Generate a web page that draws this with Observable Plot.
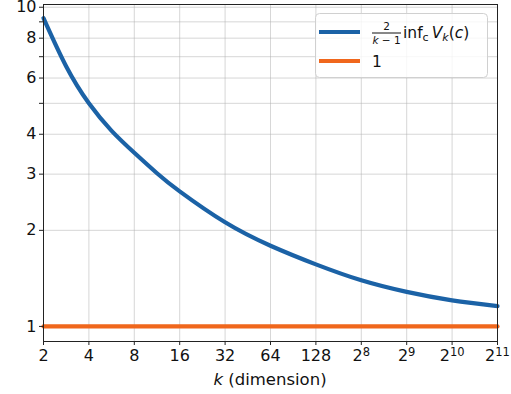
<!DOCTYPE html>
<html>
<head>
<meta charset="utf-8">
<script src="https://cdn.jsdelivr.net/npm/d3@7"></script>
<script src="https://cdn.jsdelivr.net/npm/@observablehq/plot@0.6"></script>
<style>
  html, body { margin: 0; padding: 0; background: #fff; }
  #wrap { position: relative; width: 511px; height: 394px; }
  svg { overflow: visible; }
</style>
</head>
<body>
<div id="wrap"></div>
<script>
// Data
const kValues = [2, 2.83, 4, 5.66, 8, 11.31, 16, 32, 64, 128, 256, 512, 1024, 2048];
const boundValues = [9.24, 6.52, 5.0, 4.1, 3.5, 3.02, 2.65, 2.12, 1.79, 1.565, 1.395, 1.283, 1.207, 1.158];
const refK = [2, 2048];
const refValues = [1, 1];
const xTickValues = [2, 4, 8, 16, 32, 64, 128, 256, 512, 1024, 2048];
const xTickBase = ["2", "4", "8", "16", "32", "64", "128", "2", "2", "2", "2"];
const xTickExp = ["", "", "", "", "", "", "", "8", "9", "10", "11"];
const yTickValues = [1, 2, 3, 4, 5, 6, 7, 8, 9, 10];
const yTickLabels = ["1", "2", "3", "4", "", "6", "", "8", "", "10"];
const seriesColors = ["#1b62a6", "#f0671c"];
const legendLabels = ["2/(k−1) inf_c V_k(c)", "1"];

const boundData = kValues.map((k, i) => ({k, v: boundValues[i]}));
const refData = refK.map((k, i) => ({k, v: refValues[i]}));

const FONT = "DejaVu Sans, sans-serif";
const plot = Plot.plot({
  width: 511,
  height: 394,
  marginLeft: 43,
  marginRight: 14,
  marginTop: 4,
  marginBottom: 53,
  style: {fontFamily: FONT, fontSize: "16px", color: "#111", background: "#fff"},
  x: {type: "log", base: 2, domain: [2, 2048]},
  y: {type: "log", domain: [0.897, 10.2]},
  marks: [
    Plot.gridX(xTickValues, {stroke: "#b0b0b0", strokeOpacity: 0.5, strokeWidth: 1}),
    Plot.gridY(yTickValues, {stroke: "#b0b0b0", strokeOpacity: 0.5, strokeWidth: 1}),
    Plot.line(boundData, {x: "k", y: "v", stroke: seriesColors[0], strokeWidth: 4.2, curve: "natural"}),
    Plot.line(refData, {x: "k", y: "v", stroke: seriesColors[1], strokeWidth: 4.2}),
    Plot.frame({stroke: "#222", strokeWidth: 1}),
    Plot.axisX({ticks: xTickValues, tickFormat: (d) => xTickBase[xTickValues.indexOf(d)] + "|" + xTickExp[xTickValues.indexOf(d)], tickSize: 4, tickPadding: 4, label: null, fontSize: 16, stroke: "#222"}),
    Plot.axisY({ticks: yTickValues, tickFormat: (d) => yTickLabels[yTickValues.indexOf(d)], tickSize: 4, tickPadding: 3, label: null, fontSize: 16, stroke: "#222"})
  ]
});

document.getElementById("wrap").appendChild(plot);
const svg = d3.select(plot);

// superscript x tick labels
svg.selectAll('g[aria-label="x-axis tick label"] text').each(function () {
  const txt = d3.select(this);
  const [base, exp] = txt.text().split("|");
  txt.text(null);
  txt.append("tspan").text(base);
  if (exp) txt.append("tspan").attr("dy", "-0.42em").attr("font-size", "11.5px").text(exp);
});

// x-axis label with italic k
const xs = plot.scale("x");
const cx = (xs.range[0] + xs.range[1]) / 2;
const t = svg.append("text")
  .attr("x", cx).attr("y", 385)
  .attr("text-anchor", "middle")
  .style("font-family", FONT)
  .style("font-size", "16.5px")
  .attr("fill", "#111");
t.append("tspan").attr("font-style", "italic").text("k");
t.append("tspan").text(" (dimension)");

// Legend
const lg = svg.append("g").attr("aria-label", "legend").style("font-family", FONT).attr("fill", "#111").attr("text-anchor", "start");
lg.append("rect").attr("x", 315.5).attr("y", 13.5).attr("width", 172).attr("height", 64).attr("rx", 4)
  .attr("fill", "#fff").attr("fill-opacity", 0.8).attr("stroke", "#d0d0d0");
lg.append("line").attr("x1", 319).attr("x2", 360).attr("y1", 32).attr("y2", 32)
  .attr("stroke", seriesColors[0]).attr("stroke-width", 4.2);
lg.append("line").attr("x1", 319).attr("x2", 360).attr("y1", 61).attr("y2", 61)
  .attr("stroke", seriesColors[1]).attr("stroke-width", 4.2);
// fraction 2/(k-1)
lg.append("text").attr("x", 386.5).attr("y", 29.5).attr("text-anchor", "middle").style("font-size", "10.5px").text("2");
lg.append("line").attr("x1", 372).attr("x2", 401).attr("y1", 33).attr("y2", 33).attr("stroke", "#111").attr("stroke-width", 1);
const den = lg.append("text").attr("x", 386.5).attr("y", 44).attr("text-anchor", "middle").style("font-size", "10.5px");
den.append("tspan").attr("font-style", "italic").text("k");
den.append("tspan").text(" − 1");
// inf_c V_k(c)
const f = lg.append("text").attr("x", 403).attr("y", 38).attr("text-anchor", "start").style("font-size", "15.5px");
f.append("tspan").text("inf");
f.append("tspan").attr("dy", 3).style("font-size", "11px").text("c");
f.append("tspan").attr("dy", -3).attr("dx", 3).attr("font-style", "italic").text("V");
f.append("tspan").attr("dy", 3).style("font-size", "11px").attr("font-style", "italic").text("k");
f.append("tspan").attr("dy", -3).text("(");
f.append("tspan").attr("font-style", "italic").text("c");
f.append("tspan").text(")");
lg.append("text").attr("x", 372).attr("y", 67).attr("text-anchor", "start").style("font-size", "15.5px").text(legendLabels[1]);
</script>
</body>
</html>
